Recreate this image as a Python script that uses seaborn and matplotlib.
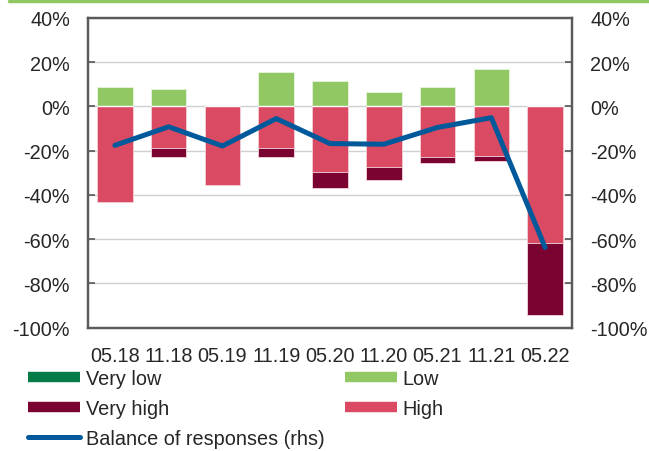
import matplotlib
matplotlib.use("Agg")
import matplotlib.pyplot as plt
from matplotlib.lines import Line2D
import seaborn as sns
import pandas as pd
import numpy as np

periods = ["05.18", "11.18", "05.19", "11.19", "05.20", "11.20", "05.21", "11.21", "05.22"]
very_low = [0, 0, 0, 0, 0, 0, 0, 0, 0]
low = [9.0, 8.0, 0.0, 15.5, 11.3, 6.4, 8.8, 17.0, 0.0]
high = [-43.3, -19.0, -35.5, -19.0, -29.7, -27.3, -22.9, -22.3, -61.8]
very_high = [0.0, -4.0, 0.0, -4.0, -7.3, -5.9, -2.7, -2.6, -32.6]
balance = [-17.6, -9.2, -17.9, -5.5, -16.8, -17.1, -9.5, -5.1, -63.8]
yticks = [40, 20, 0, -20, -40, -60, -80, -100]

C_VLOW = "#057B48"
C_LOW = "#92C864"
C_HIGH = "#DA4A62"
C_VHIGH = "#7B0332"
C_BAL = "#00599A"

sns.set_style("white")
plt.rcParams["font.family"] = ["Liberation Sans", "DejaVu Sans"]
FS = 14.3

df = pd.DataFrame({"period": periods, "very_low": very_low, "low": low,
                   "high": high, "very_high": very_high, "balance": balance})
df["neg_total"] = df["high"] + df["very_high"]
df["pos_total"] = df["low"] + df["very_low"]

fig = plt.figure(figsize=(6.49, 4.52), dpi=100)
ax = fig.add_axes([88 / 649, 1 - 328.5 / 452, (572 - 88) / 649, (328.5 - 19) / 452])

bw = 0.66
sns.barplot(data=df, x="period", y="neg_total", color=C_VHIGH, width=bw,
            edgecolor="#f3d6dc", linewidth=0.6, saturation=1, ax=ax, zorder=2)
sns.barplot(data=df, x="period", y="high", color=C_HIGH, width=bw,
            edgecolor="#f3d6dc", linewidth=0.6, saturation=1, ax=ax, zorder=3)
sns.barplot(data=df, x="period", y="pos_total", color=C_LOW, width=bw,
            edgecolor="#e8f3de", linewidth=0.6, saturation=1, ax=ax, zorder=2)
sns.barplot(data=df, x="period", y="very_low", color=C_VLOW, width=bw,
            saturation=1, ax=ax, zorder=3)

ax.set_ylim(-100, 40)
ax.set_xlim(-0.5, len(periods) - 0.5)
ax.set_yticks(yticks)
ax.set_yticklabels([f"{v}%" for v in yticks], fontsize=FS)
ax.yaxis.grid(True, color="#cfcfcf", linewidth=1.0, zorder=0)
ax.set_axisbelow(True)
ax.set_xlabel("")
ax.set_ylabel("")
ax.tick_params(axis="x", length=0, pad=13, labelsize=FS)
ax.tick_params(axis="y", direction="in", length=5, width=1.2, color="#555555", pad=13)
for s in ax.spines.values():
    s.set_color("#5a5a5a")
    s.set_linewidth(1.6)

ax2 = ax.twinx()
sns.lineplot(x=np.arange(len(periods)), y=df["balance"], color=C_BAL, linewidth=3.6,
             ax=ax2, zorder=5, solid_capstyle="round")
ax2.set_ylim(-100, 40)
ax2.set_xlim(-0.5, len(periods) - 0.5)
ax2.set_yticks(yticks)
ax2.set_yticklabels([f"{v}%" for v in yticks], fontsize=FS)
ax2.tick_params(axis="y", direction="in", length=5, width=1.2, color="#555555", pad=13)
ax2.set_ylabel("")
for s in ax2.spines.values():
    s.set_color("#5a5a5a")
    s.set_linewidth(1.6)

handles = [
    Line2D([0], [0], color=C_VLOW, linewidth=7.5, solid_capstyle="butt"),
    Line2D([0], [0], color=C_VHIGH, linewidth=7.5, solid_capstyle="butt"),
    Line2D([0], [0], color=C_BAL, linewidth=3.6, solid_capstyle="round"),
    Line2D([0], [0], color=C_LOW, linewidth=7.5, solid_capstyle="butt"),
    Line2D([0], [0], color=C_HIGH, linewidth=7.5, solid_capstyle="butt"),
]
labels = ["Very low", "Very high", "Balance of responses (rhs)", "Low", "High"]
fig.legend(handles, labels, ncol=2, loc="upper left",
           bbox_to_anchor=(28 / 649, 1 - 370 / 452), frameon=False,
           fontsize=FS, handlelength=2.62, handletextpad=0.3,
           columnspacing=1.0, labelspacing=0.56, borderpad=0, borderaxespad=0)

fig.add_artist(Line2D([9 / 649, 1.0], [1 - 2 / 452, 1 - 2 / 452], color=C_LOW,
                      linewidth=2.5, transform=fig.transFigure))

fig.savefig("out.png", dpi=100)
